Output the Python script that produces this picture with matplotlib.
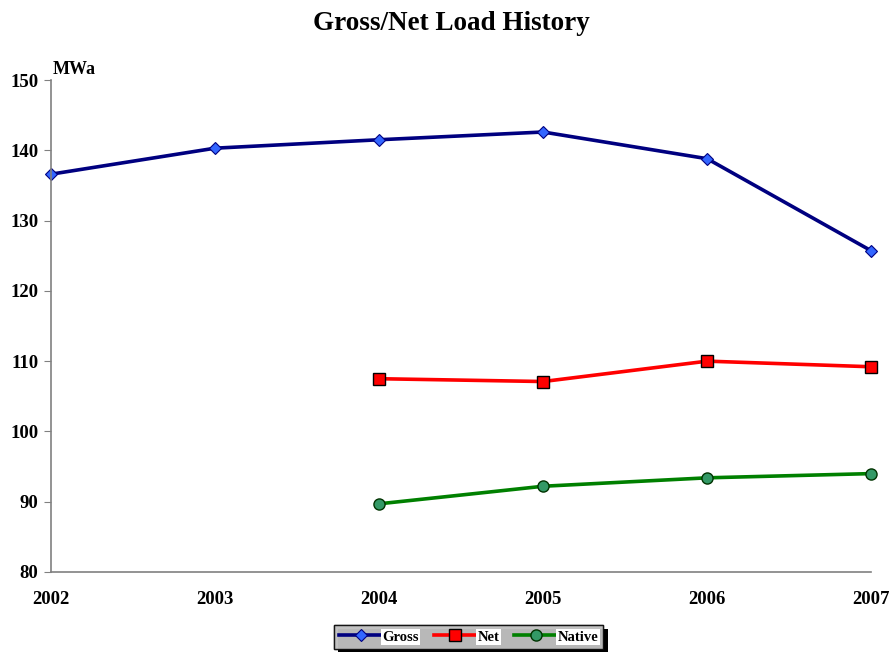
import matplotlib.pyplot as plt
from matplotlib import patheffects

plt.rcParams["font.family"] = ["Liberation Serif", "DejaVu Serif"]
plt.rcParams["font.weight"] = "bold"

years = [2002, 2003, 2004, 2005, 2006, 2007]
gross = [136.6, 140.3, 141.5, 142.6, 138.8, 125.7]
net_years = [2004, 2005, 2006, 2007]
net = [107.5, 107.1, 110.0, 109.2]
native_years = [2004, 2005, 2006, 2007]
native = [89.7, 92.2, 93.4, 94.0]

fig = plt.figure(figsize=(8.89, 6.52), dpi=100)
ax = fig.add_axes([0.0574, 0.1227, 0.9226, 0.7546])

ax.plot(years, gross, color="#000080", lw=2.6, marker="D", ms=6.5,
        mfc="#3366ff", mec="#000080", mew=0.8, label="Gross", clip_on=False)
ax.plot(net_years, net, color="#ff0000", lw=2.6, marker="s", ms=8,
        mfc="#ff0000", mec="#000000", mew=1.0, label="Net", clip_on=False)
ax.plot(native_years, native, color="#008000", lw=2.6, marker="o", ms=8,
        mfc="#339966", mec="#003300", mew=1.0, label="Native", clip_on=False)

ax.set_xlim(2002, 2007)
ax.set_ylim(80, 150)
ax.set_yticks(range(80, 151, 10))
ax.set_xticks(years)
ax.tick_params(axis="y", direction="out", length=5, color="#808080",
               labelsize=13.5, pad=4)
ax.tick_params(axis="x", length=0, labelsize=13.5, pad=14)
for lbl in ax.get_xticklabels() + ax.get_yticklabels():
    lbl.set_fontweight("bold")

for side in ("top", "right"):
    ax.spines[side].set_visible(False)
for side in ("left", "bottom"):
    ax.spines[side].set_color("#808080")
    ax.spines[side].set_linewidth(1.2)

fig.text(0.508, 0.964, "Gross/Net Load History", ha="center", va="center",
         fontsize=19.5, fontweight="bold")
ax.text(0.002, 1.005, "MWa", transform=ax.transAxes, ha="left", va="bottom",
        fontsize=13, fontweight="bold")

leg = fig.legend(loc="lower center", bbox_to_anchor=(0.527, -0.006), ncol=3,
                 fontsize=10.5, frameon=True, fancybox=False, handlelength=3,
                 columnspacing=1.0, handletextpad=0.0, borderpad=0.35,
                 labelspacing=0.2)
frame = leg.get_frame()
frame.set_facecolor("#c0c0c0")
frame.set_edgecolor("#000000")
frame.set_linewidth(1.0)
frame.set_path_effects([
    patheffects.withSimplePatchShadow(offset=(3, -3), shadow_rgbFace="black", alpha=1.0),
    patheffects.Normal(),
])
for t in leg.get_texts():
    t.set_fontweight("bold")
    t.set_bbox(dict(facecolor="white", edgecolor="none", pad=1))

fig.savefig("out.png", dpi=100)
